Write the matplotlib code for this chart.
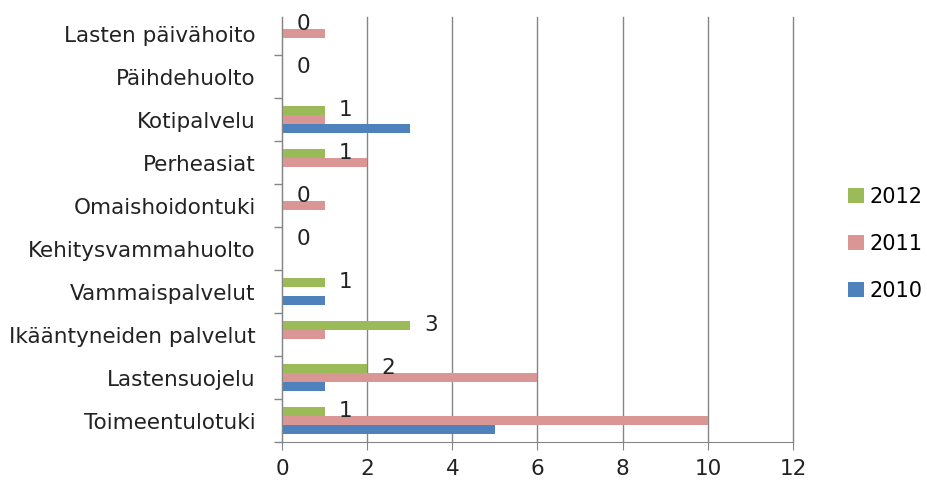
import matplotlib
matplotlib.use("Agg")
import matplotlib.pyplot as plt
import numpy as np
from matplotlib.ticker import FixedLocator

categories = ["Toimeentulotuki", "Lastensuojelu", "Ikääntyneiden palvelut", "Vammaispalvelut",
              "Kehitysvammahuolto", "Omaishoidontuki", "Perheasiat", "Kotipalvelu",
              "Päihdehuolto", "Lasten päivähoito"]
v2010 = [5, 1, 0, 1, 0, 0, 0, 3, 0, 0]
v2011 = [10, 6, 1, 0, 0, 1, 2, 1, 0, 1]
v2012 = [1, 2, 3, 1, 0, 0, 1, 1, 0, 0]
xticks = [0, 2, 4, 6, 8, 10, 12]

plt.rcParams['font.family'] = ['DejaVu Sans']
fs = 15.5
fig = plt.figure(figsize=(9.28, 4.82), dpi=100)
ax = fig.add_axes([282/928, 1-442/482, (793-282)/928, (442-17)/482])

y = np.arange(len(categories))
w = 0.21
c2010, c2011, c2012 = "#4F81BD", "#DA9694", "#9BBB59"
ax.barh(y - w, v2010, height=w, color=c2010, label="2010", zorder=3)
ax.barh(y, v2011, height=w, color=c2011, label="2011", zorder=3)
ax.barh(y + w, v2012, height=w, color=c2012, label="2012", zorder=3)
for yi, v in zip(y, v2012):
    ax.text(v + 0.5, yi + w, str(v), ha="center", va="center", fontsize=fs, color="#222222", zorder=4)

ax.set_xlim(0, 12)
ax.set_ylim(-0.5, len(categories) - 0.5 - 5/43.1)
ax.set_xticks(xticks)
ax.set_xticklabels([str(t) for t in xticks])
ax.set_yticks(y)
ax.set_yticklabels(categories)
ax.yaxis.set_minor_locator(FixedLocator(np.arange(-0.5, len(categories) - 1, 1)))
ax.tick_params(axis="y", which="major", length=0, pad=19, labelsize=fs, labelcolor="#222222")
ax.tick_params(axis="y", which="minor", length=6, color="#868686", width=1)
ax.tick_params(axis="x", which="major", length=6, color="#868686", labelsize=fs, labelcolor="#222222", pad=6)
ax.grid(axis="x", color="#868686", linewidth=1, zorder=0)
for line in ax.get_xgridlines():
    line.set_clip_on(False)
for s in ["top", "right"]:
    ax.spines[s].set_visible(False)
for s in ["left", "bottom"]:
    ax.spines[s].set_color("#868686")
    ax.spines[s].set_zorder(5)

handles, labels = ax.get_legend_handles_labels()
leg = fig.legend(handles[::-1], labels[::-1], loc="center left", bbox_to_anchor=(848/928, 1-244/482),
                 frameon=False, fontsize=15, handlelength=0.75, handleheight=0.75, labelspacing=1.3,
                 handletextpad=0.3, borderpad=0, borderaxespad=0)
fig.savefig("out.png", dpi=100)
